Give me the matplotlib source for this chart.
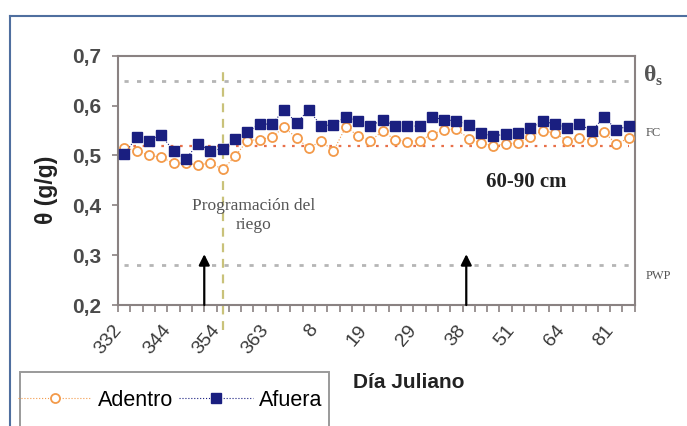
import numpy as np
import matplotlib
matplotlib.use("Agg")
import matplotlib.pyplot as plt
from matplotlib.patches import Rectangle
from matplotlib.lines import Line2D
from matplotlib.ticker import FuncFormatter, FixedLocator
import matplotlib.transforms as mtransforms

plt.rcParams['font.family'] = ['Liberation Sans', 'DejaVu Sans']

# dias julianos (una etiqueta cada 4 lecturas)
dias = ['332', '344', '354', '363', '8', '19', '29', '38', '51', '64', '81']

# contenido de humedad 60-90 cm
adentro = [0.515, 0.510, 0.500, 0.497, 0.484, 0.485, 0.481, 0.485, 0.472, 0.498,
           0.530, 0.532, 0.537, 0.557, 0.535, 0.515, 0.529, 0.509, 0.557, 0.540,
           0.529, 0.549, 0.532, 0.528, 0.530, 0.542, 0.552, 0.553, 0.534, 0.525,
           0.520, 0.523, 0.525, 0.537, 0.550, 0.545, 0.530, 0.536, 0.529, 0.547,
           0.523, 0.535]
afuera = [0.502, 0.537, 0.530, 0.541, 0.509, 0.493, 0.524, 0.509, 0.514, 0.533,
          0.547, 0.563, 0.563, 0.592, 0.565, 0.592, 0.559, 0.562, 0.577, 0.569,
          0.559, 0.572, 0.559, 0.559, 0.559, 0.577, 0.572, 0.569, 0.562, 0.545,
          0.539, 0.543, 0.545, 0.555, 0.569, 0.563, 0.555, 0.563, 0.549, 0.577,
          0.552, 0.559]

# limites de humedad
theta_s = 0.65
fc = 0.52
pwp = 0.28

# inicio programacion del riego y riegos (flechas)
inicio_prog = 8
riegos = [6.5, 27.8]

x = np.arange(len(afuera))

fig = plt.figure(figsize=(6.87, 4.26), dpi=100)
ax = fig.add_axes([0.172, 0.284, 0.752, 0.585])

gris = '#8a8282'

# lineas de referencia
ax.hlines(theta_s, x[0], x[-1], colors='#b5b5b5', linestyles=(0, (1.5, 3)), lw=2)
ax.hlines(pwp, x[0], x[-1], colors='#b5b5b5', linestyles=(0, (1.5, 3)), lw=2)
ax.hlines(fc, x[0], x[-1], colors='#e8704a', linestyles=(0, (1.2, 3)), lw=1.6)

ax.plot([inicio_prog, inicio_prog], [0.15, 0.672], color='#c9c27a', lw=1.6,
        ls=(0, (4, 3)), clip_on=False, zorder=2)

l1, = ax.plot(x, adentro, ls=':', lw=0.8, color='#f39a4a', marker='o', ms=6.5,
              mfc='white', mec='#f39a4a', mew=1.3, zorder=3)
l2, = ax.plot(x, afuera, ls=':', lw=0.8, color='#1a1f80', marker='s', ms=7.5,
              mfc='#1a1f80', mec='#1a1f80', zorder=4)

for r in riegos:
    ax.annotate('', xy=(r, 0.302), xytext=(r, 0.2),
                arrowprops=dict(arrowstyle='-|>', color='black', lw=1.6,
                                mutation_scale=16, shrinkA=0, shrinkB=0))

ax.text(10.5, 0.38, 'Programación del\nriego', ha='center', va='center',
        fontsize=12.5, family='Liberation Serif', color='#555555', linespacing=1.3)
ax.text(32.7, 0.446, '60-90 cm', ha='center', va='center', fontsize=15,
        family='Liberation Serif', fontweight='bold', color='#222222')

trans = mtransforms.blended_transform_factory(ax.transAxes, ax.transData)
ax.text(1.018, 0.66, 'θ', transform=trans, fontsize=17, color='#555555',
        family='Liberation Serif', fontweight='bold', va='center', ha='left')
ax.text(1.041, 0.648, 's', transform=trans, fontsize=11, color='#555555',
        family='Liberation Serif', fontweight='bold', va='center', ha='left')
ax.text(1.022, 0.546, 'FC', transform=trans, fontsize=9, color='#555555',
        family='Liberation Serif', va='center', ha='left')
ax.text(1.022, 0.258, 'PWP', transform=trans, fontsize=9, color='#555555',
        family='Liberation Serif', va='center', ha='left')

ax.set_xlim(-0.5, len(x) - 0.5)
ax.set_ylim(0.2, 0.7)
ax.set_yticks(np.arange(0.2, 0.71, 0.1))
ax.yaxis.set_major_formatter(FuncFormatter(lambda v, p: f'{v:.1f}'.replace('.', ',')))
ax.tick_params(axis='y', length=4, width=1.2, color=gris, labelsize=15,
               labelcolor='#4a4a4a', pad=8)
for t in ax.get_yticklabels():
    t.set_fontweight('bold')

ax.xaxis.set_major_locator(FixedLocator(x[::4]))
ax.set_xticklabels(dias, rotation=50, ha='right', va='center',
                   rotation_mode='anchor', fontsize=14, color='#3a3a3a')
ax.xaxis.set_minor_locator(FixedLocator(np.arange(-0.5, len(x), 1)))
ax.tick_params(axis='x', which='major', length=0, pad=16)
ax.tick_params(axis='x', which='minor', length=5, width=1.2, color=gris)
off = mtransforms.ScaledTranslation(-0.06, 0, fig.dpi_scale_trans)
for t in ax.get_xticklabels():
    t.set_transform(t.get_transform() + off)

for s in ax.spines.values():
    s.set_color(gris)
    s.set_linewidth(1.5)

fig.text(47 / 687, 1 - 190 / 426, 'θ (g/g)', rotation=90, ha='center', va='center',
         fontsize=16.5, fontweight='bold', color='#222222')
fig.text(409 / 687, 1 - 382 / 426, 'Día Juliano', ha='center', va='center',
         fontsize=15, fontweight='bold', color='#222222')

fig.legend([l1, l2], ['Adentro', 'Afuera'], loc='center left',
           bbox_to_anchor=(18 / 687, 1 - 400 / 426), ncol=2, frameon=False,
           fontsize=15.5, handlelength=3.4, handletextpad=0.3, columnspacing=0.3,
           borderpad=0, borderaxespad=0)
fig.patches.append(Rectangle((20 / 687, -0.05), 309 / 687, 0.05 + 1 - 372 / 426,
                             transform=fig.transFigure, fill=False,
                             edgecolor='#9a9a9a', lw=1.4))

# marco exterior
fig.add_artist(Line2D([10 / 687, 10 / 687], [0, 1 - 16 / 426],
                      transform=fig.transFigure, color='#4f6f9f', lw=1.5))
fig.add_artist(Line2D([10 / 687, 1], [1 - 16 / 426, 1 - 16 / 426],
                      transform=fig.transFigure, color='#4f6f9f', lw=1.5))

fig.savefig('out.png', dpi=100)
